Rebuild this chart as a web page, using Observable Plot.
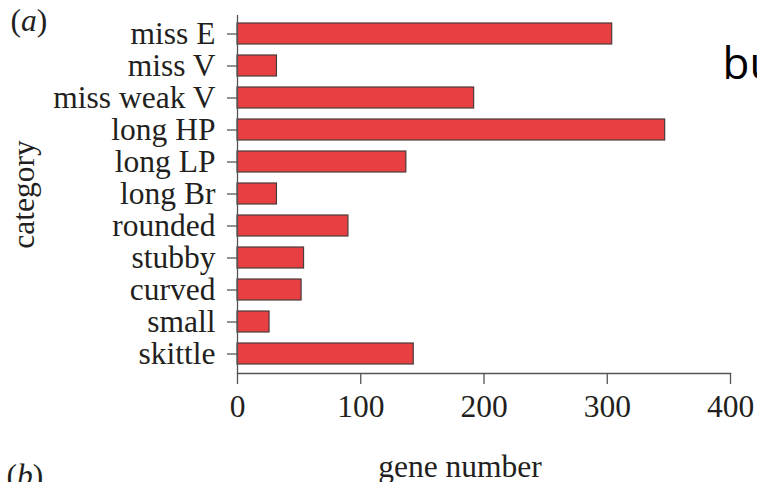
<!DOCTYPE html>
<html><head><meta charset="utf-8">
<script src="https://cdn.jsdelivr.net/npm/d3@7"></script>
<script src="https://cdn.jsdelivr.net/npm/@observablehq/plot@0.6"></script>
<style>body{margin:0;background:#fff}</style>
</head><body><div id="chart"></div>
<script>
const categories = ["miss E","miss V","miss weak V","long HP","long LP","long Br","rounded","stubby","curved","small","skittle"];
const geneNumbers = [304, 32, 192, 347, 137, 32, 90, 54, 52, 26, 143];
const xTicks = [0, 100, 200, 300, 400];
const panelLabelA = "(a)";
const panelLabelB = "(b)";
const xLabel = "gene number";
const yLabel = "category";
const sideText = "bu";

const data = categories.map((c, i) => ({category: c, value: geneNumbers[i]}));
const serif = "'Liberation Serif', 'Times New Roman', serif";
const ink = "#231f20";
const axisGray = "#555";

const chart = Plot.plot({
  width: 757, height: 482,
  marginLeft: 237, marginRight: 27, marginTop: 15, marginBottom: 109,
  style: {fontFamily: serif, fontSize: "31.5px", color: ink, background: "#fff"},
  x: {domain: [0, 400], label: null},
  y: {domain: categories, paddingInner: 0.34, paddingOuter: 0.175, label: null},
  marks: [
    Plot.barX(data, {x: "value", y: "category", fill: "#e84042", stroke: "#4a3b3b", strokeWidth: 1.2}),
    Plot.ruleX([0], {stroke: axisGray, strokeWidth: 1.3}),
    Plot.frame({anchor: "bottom", stroke: axisGray, strokeWidth: 1.3}),
    Plot.axisX({ticks: xTicks, tickSize: 11, tickPadding: 10, label: null, stroke: axisGray, strokeWidth: 1.3, fill: ink}),
    Plot.axisY({tickSize: 10, tickPadding: 12, label: null, stroke: axisGray, strokeWidth: 1.3, fill: ink}),
    Plot.text([xLabel], {text: d => d, frameAnchor: "bottom", dx: -24, dy: 103, lineAnchor: "bottom", fill: ink}),
    Plot.text([yLabel], {text: d => d, frameAnchor: "left", textAnchor: "middle", rotate: -90, dx: -204, lineAnchor: "bottom", fill: ink}),
    Plot.text([panelLabelA], {text: d => d, frameAnchor: "top-left", textAnchor: "start", dx: -227, dy: 15, lineAnchor: "bottom", fill: ink}),
    Plot.text([panelLabelB], {text: d => d, frameAnchor: "bottom-left", textAnchor: "start", dx: -231, dy: 112, lineAnchor: "bottom", fill: ink}),
    Plot.text([sideText], {text: d => d, frameAnchor: "top-right", textAnchor: "start", dx: -8, dy: 63, lineAnchor: "bottom", fill: "#000", fontFamily: "'Open Sans', sans-serif", fontSize: 44})
  ]
});
document.getElementById("chart").appendChild(chart);

// italicise the letter inside the panel labels
d3.select(chart).selectAll("text").each(function() {
  const t = this.textContent;
  if (t === panelLabelA || t === panelLabelB) {
    const el = d3.select(this);
    el.text("");
    el.append("tspan").text("(");
    el.append("tspan").attr("font-style", "italic").text(t.slice(1, -1));
    el.append("tspan").text(")");
  }
});
</script>
</body></html>
